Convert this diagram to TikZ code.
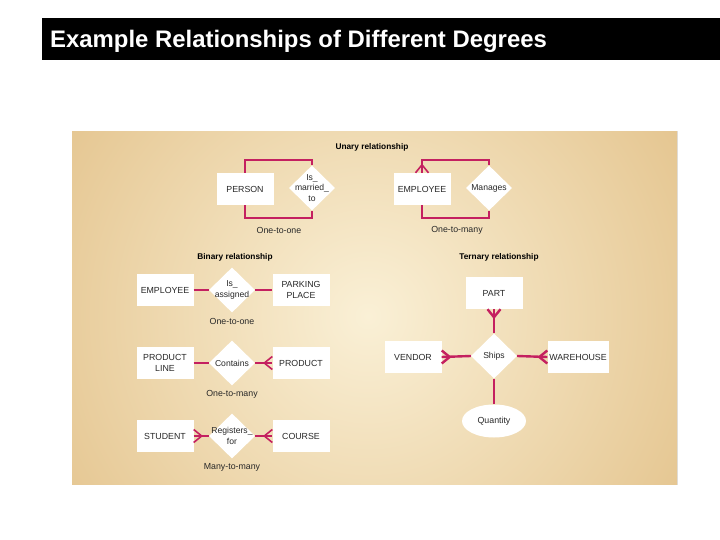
\documentclass[tikz,border=0pt]{standalone}
\usepackage{fontspec}
\setmainfont{Liberation Sans}
\usetikzlibrary{shapes.geometric,calc}
\definecolor{rel}{RGB}{196,32,96}
\definecolor{tanE}{RGB}{222,184,122}
\definecolor{tanC}{RGB}{250,240,214}
\definecolor{txt}{RGB}{40,40,40}
\tikzset{
  ent/.style={fill=white,draw=none,minimum width=57,minimum height=32,inner sep=0pt,align=center,
    font=\fontsize{8.8}{10.8}\selectfont,text=txt},
  relbox/.style={shape=diamond,aspect=1,fill=white,draw=none,minimum width=46,minimum height=45,inner sep=0pt},
  reltext/.style={align=center,font=\fontsize{8.6}{10.8}\selectfont,text=txt,inner sep=0pt},
  degcap/.style={font=\fontsize{8.8}{10}\selectfont,text=txt},
  head/.style={font=\bfseries\fontsize{8.3}{10}\selectfont,text=black},
  link/.style={draw=rel,line width=1.6pt},
  tlink/.style={draw=rel,line width=2.4pt},
}
\newcommand{\crowW}[2]{\draw[#2] ($(#1)+(-8,0)$) -- ($(#1)+(0,-6.5)$) ($(#1)+(-8,0)$) -- ($(#1)+(0,6.5)$);}
\newcommand{\crowE}[2]{\draw[#2] ($(#1)+(8,0)$) -- ($(#1)+(0,-6.5)$) ($(#1)+(8,0)$) -- ($(#1)+(0,6.5)$);}
\newcommand{\crowN}[2]{\draw[#2] ($(#1)+(0,-8)$) -- ($(#1)+(-6.5,0)$) ($(#1)+(0,-8)$) -- ($(#1)+(6.5,0)$);}
\begin{document}
\begin{tikzpicture}[x=1pt,y=-1pt]
\useasboundingbox (0,0) rectangle (720,540);
\fill[white] (0,0) rectangle (720,540);
% title bar
\fill[black] (42,18) rectangle (720,60);
\node[anchor=base west,text=white,font=\bfseries\fontsize{23.9}{26}\selectfont,inner sep=0pt] (title) at (50,48) {Example Relationships of Different Degrees};
% panel
\begin{scope}
\clip (72,132) rectangle (677,484);
\fill[tanE] (72,132) rectangle (677,484);
\fill[inner color=tanC,outer color=tanE] (368,316) circle (480);
\end{scope}
% ---------- unary
\node[head] (hunary) at (372,147) {Unary relationship};
\node[ent] (person) at (245,189) {PERSON};
\node[relbox] (married) at (312,188) {};
\node[reltext] (marriedt) at (married.center) {Is\_\\married\_\\to};
\draw[link] (person.north) -- ++(0,-13) -| (married.north);
\draw[link] (person.south) -- ++(0,13) -| (married.south);
\node[degcap] (c1) at (279,230) {One-to-one};

\node[ent] (emp1) at (422,189) {EMPLOYEE};
\node[relbox] (manages) at (489,188) {};
\node[reltext] (managest) at (manages.center) {Manages};
\draw[link] (emp1.north) -- ++(0,-13) -| (manages.north);
\draw[link] (emp1.south) -- ++(0,13) -| (manages.south);
\crowN{emp1.north}{link}
\node[degcap] (c2) at (457,230) {One-to-many};

% ---------- binary
\node[head] (hbinary) at (235,257) {Binary relationship};
\node[ent] (emp2) at (165,290) {EMPLOYEE};
\node[relbox] (assigned) at (232,290) {};
\node[reltext] (assignedt) at (assigned.center) {Is\_\\assigned};
\node[ent] (parking) at (301,290) {PARKING\\PLACE};
\draw[link] (emp2.east) -- (assigned.west);
\draw[link] (assigned.east) -- (parking.west);
\node[degcap] (c3) at (232,321) {One-to-one};

\node[ent] (pline) at (165,363) {PRODUCT\\LINE};
\node[relbox] (contains) at (232,363) {};
\node[reltext] (containst) at (contains.center) {Contains};
\node[ent] (product) at (301,363) {PRODUCT};
\draw[link] (pline.east) -- (contains.west);
\draw[link] (contains.east) -- (product.west);
\crowW{product.west}{link}
\node[degcap] (c4) at (232,394) {One-to-many};

\node[ent] (student) at (165,436) {STUDENT};
\node[relbox] (registers) at (232,436) {};
\node[reltext] (registerst) at (registers.center) {Registers\_\\for};
\node[ent] (course) at (301,436) {COURSE};
\draw[link] (student.east) -- (registers.west);
\draw[link] (registers.east) -- (course.west);
\crowE{student.east}{link}
\crowW{course.west}{link}
\node[degcap] (c5) at (232,467) {Many-to-many};

% ---------- ternary
\node[head] (hternary) at (499,257) {Ternary relationship};
\node[ent] (part) at (494,293) {PART};
\node[relbox] (ships) at (494,356) {};
\node[reltext] (shipst) at (ships.center) {Ships};
\node[ent] (vendor) at (413,357) {VENDOR};
\node[ent,minimum width=61] (warehouse) at (578,357) {WAREHOUSE};
\node[ellipse,fill=white,draw=none,minimum width=64,minimum height=33,inner sep=0pt,font=\fontsize{8.8}{10}\selectfont,text=txt] (quantity) at (494,421) {Quantity};
\draw[tlink] (part.south) -- (ships.north);
\draw[tlink] (vendor.east) -- (ships.west);
\draw[tlink] (ships.east) -- (warehouse.west);
\draw[tlink] (ships.south) -- (quantity.north);
\draw[tlink] ($(part.south)+(0,8)$) -- ($(part.south)+(-6.5,0)$) ($(part.south)+(0,8)$) -- ($(part.south)+(6.5,0)$);
\crowE{vendor.east}{tlink}
\crowW{warehouse.west}{tlink}
\end{tikzpicture}
\end{document}
